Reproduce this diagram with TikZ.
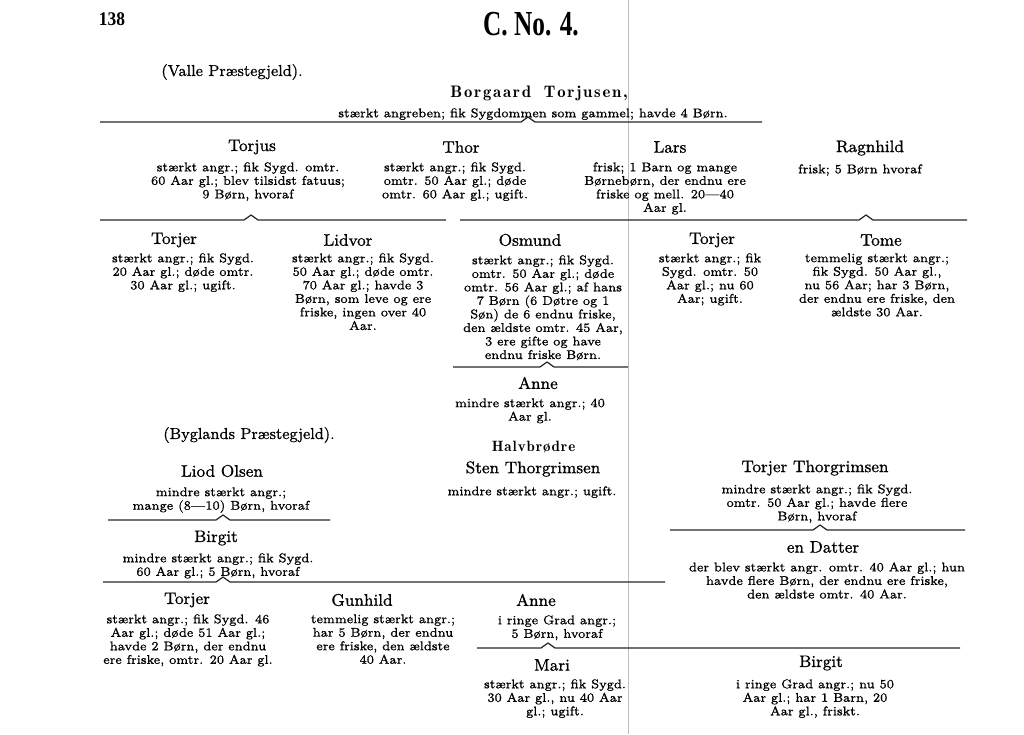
\documentclass[tikz,border=0pt]{standalone}
\usepackage{fontspec}
\setmainfont{Latin Modern Roman}
\newfontfamily\headfont{Liberation Serif}
\usetikzlibrary{positioning}
\newcommand\notchline[4]{% left, notch, right, height
  (#1,#4) -- ({#2-7},#4) -- (#2,{#4-5}) -- ({#2+7},#4) -- (#3,#4)
}
% spaced letters of one word: \spread{kern}{word}
\def\spreadloop#1{\ifx#1\relax\else#1\kern\spreadkern\expandafter\spreadloop\fi}
\newcommand\spread[2]{\def\spreadkern{#1}\spreadloop#2\relax}
\tikzset{
    % name of a person
    pname/.style={font=\fontsize{9.5}{11}\selectfont\addfontfeature{FakeBold=1}},
    % spaced bold name
    sname/.style={font=\fontfamily{lmr}\bfseries\fontsize{9.5}{11}\selectfont},
    % notes under a name
    pnote/.style={font=\fontsize{7.2}{7.7}\selectfont\addfontfeature{FakeBold=1}, align=center,
           anchor=north, inner sep=0pt},
    % parish heading
    parish/.style={font=\fontsize{9}{11}\selectfont\addfontfeature{FakeBold=0.8}},
    % page head
    head/.style={font=\headfont\bfseries},
    % rule over the children
    kin/.style={line width=0.7pt, black!85},
}
\begin{document}
\begin{tikzpicture}[x=0.02cm,y=-0.02cm]
  \useasboundingbox (0,0) rectangle (1024,734);
  \draw[black!25, line width=0.4pt] (628,0) -- (628,734);
  \node[head] (page) at (112,19) {\fontsize{11}{12}\selectfont\scalebox{0.9}[1]{138}};
  \node[head] (title) at (531,24) {\fontsize{20}{22}\selectfont\scalebox{0.72}[1]{C. No. 4.}};
  \node[parish] (valle) at (232,72) {(Valle Præstegjeld).};
  \node[sname] (borgaard) at (540,93) {\spread{1pt}{Borgaard}\ \ \spread{1pt}{Torjusen,}};
  \node[pnote] (borgaard-n) at (533,108) {stærkt angreben; fik Sygdommen som gammel; havde 4 Børn.};
  \draw[kin] \notchline{100}{528}{762}{122};
  % second row
  \node[pname] (torjus) at (252,147) {Torjus};
  \node[pnote] (torjus-n) at (248,162) {stærkt angr.; fik Sygd. omtr.\\60 Aar gl.; blev tilsidst fatuus;\\9 Børn, hvoraf};
  \node[pname] (thor) at (461,147) {Thor};
  \node[pnote] (thor-n) at (455,162) {stærkt angr.; fik Sygd.\\omtr. 50 Aar gl.; døde\\omtr. 60 Aar gl.; ugift.};
  \node[pname] (lars) at (670,147) {Lars};
  \node[pnote] (lars-n) at (665,162) {frisk; 1 Barn og mange\\Børnebørn, der endnu ere\\friske og mell. 20—40\\Aar gl.};
  \node[pname] (ragnhild) at (870,148) {Ragnhild};
  \node[pnote] (ragnhild-n) at (860,164) {frisk; 5 Børn hvoraf};
  \draw[kin] \notchline{100}{251}{446}{220};
  \draw[kin] \notchline{460}{866}{967}{220};
  % third row
  \node[pname] (torjer-a) at (174,240) {Torjer};
  \node[pnote] (torjer-a-n) at (183,253) {stærkt angr.; fik Sygd.\\20 Aar gl.; døde omtr.\\30 Aar gl.; ugift.};
  \node[pname] (lidvor) at (348,240) {Lidvor};
  \node[pnote] (lidvor-n) at (363,253) {stærkt angr.; fik Sygd.\\50 Aar gl.; døde omtr.\\70 Aar gl.; havde 3\\Børn, som leve og ere\\friske, ingen over 40\\Aar.};
  \node[pname] (osmund) at (530,240) {Osmund};
  \node[pnote] (osmund-n) at (543,255) {stærkt angr.; fik Sygd.\\omtr. 50 Aar gl.; døde\\omtr. 56 Aar gl.; af hans\\7 Børn (6 Døtre og 1\\Søn) de 6 endnu friske,\\den ældste omtr. 45 Aar,\\3 ere gifte og have\\endnu friske Børn.};
  \node[pname] (torjer-b) at (712,240) {Torjer};
  \node[pnote] (torjer-b-n) at (710,253) {stærkt angr.; fik\\Sygd. omtr. 50\\Aar gl.; nu 60\\Aar; ugift.};
  \node[pname] (tome) at (881,240) {Tome};
  \node[pnote] (tome-n) at (877,253) {temmelig stærkt angr.;\\fik Sygd. 50 Aar gl.,\\nu 56 Aar; har 3 Børn,\\der endnu ere friske, den\\ældste 30 Aar.};
  \draw[kin] \notchline{453}{547}{628}{367};
  \node[pname] (anne-a) at (538,383) {Anne};
  \node[pnote] (anne-a-n) at (530,398) {mindre stærkt angr.; 40\\Aar gl.};
  % Bygland
  \node[parish] (bygland) at (249,435) {(Byglands Præstegjeld).};
  \node[pname] (liod) at (222,471) {Liod Olsen};
  \node[pnote] (liod-n) at (221,487) {mindre stærkt angr.;\\mange (8—10) Børn, hvoraf};
  \draw[kin] \notchline{108}{223}{330}{520};
  \node[pname] (birgit-a) at (216,538) {Birgit};
  \node[pnote] (birgit-a-n) at (218,553) {mindre stærkt angr.; fik Sygd.\\60 Aar gl.; 5 Børn, hvoraf};
  \draw[kin] \notchline{103}{223}{665}{582};
  \node[sname, font=\fontfamily{lmr}\bfseries\fontsize{8.5}{10}\selectfont] (halv) at (534,447) {\spread{0.55pt}{Halvbrødre}};
  \node[pname] (sten) at (533,469) {Sten Thorgrimsen};
  \node[pnote] (sten-n) at (532,486) {mindre stærkt angr.; ugift.};
  \node[pname] (torjer-t) at (815,468) {Torjer Thorgrimsen};
  \node[pnote] (torjer-t-n) at (817,484) {mindre stærkt angr.; fik Sygd.\\omtr. 50 Aar gl.; havde flere\\Børn, hvoraf};
  \draw[kin] \notchline{670}{820}{965}{530};
  \node[pname] (datter) at (823,547) {en Datter};
  \node[pnote] (datter-n) at (827,562) {der blev stærkt angr. omtr. 40 Aar gl.; hun\\havde flere Børn, der endnu ere friske,\\den ældste omtr. 40 Aar.};
  % last row
  \node[pname] (torjer-c) at (187,600) {Torjer};
  \node[pnote] (torjer-c-n) at (188,614) {stærkt angr.; fik Sygd. 46\\Aar gl.; døde 51 Aar gl.;\\havde 2 Børn, der endnu\\ere friske, omtr. 20 Aar gl.};
  \node[pname] (gunhild) at (362,600) {Gunhild};
  \node[pnote] (gunhild-n) at (383,614) {temmelig stærkt angr.;\\har 5 Børn, der endnu\\ere friske, den ældste\\40 Aar.};
  \node[pname] (anne-b) at (536,600) {Anne};
  \node[pnote] (anne-b-n) at (557,615) {i ringe Grad angr.;\\5 Børn, hvoraf};
  \draw[kin] \notchline{477}{548}{960}{648};
  \node[pname] (mari) at (552,665) {Mari};
  \node[pnote] (mari-n) at (555,679) {stærkt angr.; fik Sygd.\\30 Aar gl., nu 40 Aar\\gl.; ugift.};
  \node[pname] (birgit-b) at (821,663) {Birgit};
  \node[pnote] (birgit-b-n) at (815,679) {i ringe Grad angr.; nu 50\\Aar gl.; har 1 Barn, 20\\Aar gl., friskt.};
\end{tikzpicture}
\end{document}
